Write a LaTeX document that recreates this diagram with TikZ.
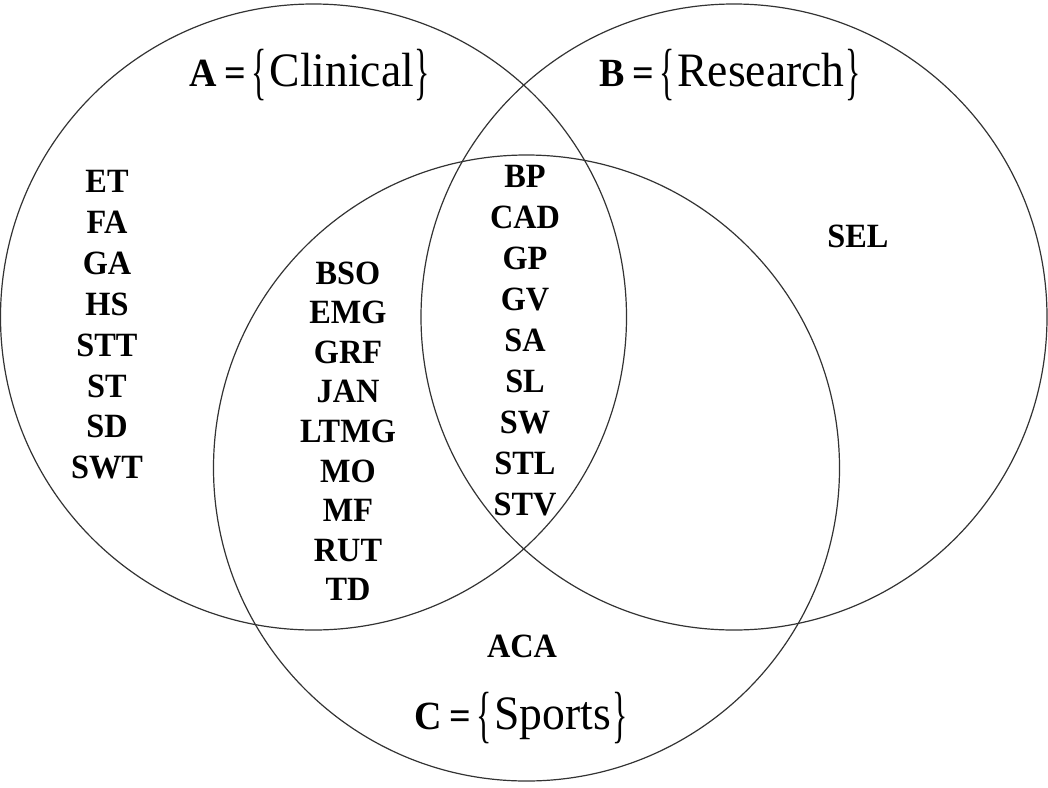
\documentclass[tikz,border=0pt]{standalone}
\usepackage{fontspec}
\setmainfont{Liberation Serif}[FakeStretch=0.95]
\usepackage{graphicx}
\newcommand{\lbrc}{\raisebox{-6pt}{\scalebox{0.7}[1.3]{\{}}}
\newcommand{\rbrc}{\raisebox{-6pt}{\scalebox{0.7}[1.3]{\}}}}
\newcommand{\settitle}[2]{{\fontsize{40}{40}\selectfont\bfseries #1\hspace{8pt}=}\hspace{5pt}\lbrc\hspace{3pt}#2\hspace{1pt}\rbrc}
\begin{document}
\begin{tikzpicture}[x=1pt,y=-1pt,
  ring/.style={circle,draw=black!80,line width=1.2pt,inner sep=0pt,minimum size=626pt},
  lab/.style={font=\fontsize{34}{34}\selectfont\bfseries,inner sep=0pt,anchor=center},
  title/.style={font=\fontsize{48}{48}\selectfont,inner sep=0pt,anchor=base west}]
\useasboundingbox (0,0) rectangle (1048,787);
\node[ring] (A) at (313.5,317) {};
\node[ring] (B) at (734,317) {};
\node[ring] (C) at (526.5,468) {};
\node[title] (tA) at (189,86) {\settitle{A}{Clinical}};
\node[title] (tB) at (599,86) {\settitle{B}{Research}};
\node[title] (tC) at (414,729) {\settitle{C}{Sports}};
\foreach \t [count=\i from 0] in {ET,FA,GA,HS,STT,ST,SD,SWT}
  \node[lab] (a\i) at (107,181.5+40.9*\i) {\t};
\foreach \t [count=\i from 0] in {BSO,EMG,GRF,JAN,LTMG,MO,MF,RUT,TD}
  \node[lab] (ac\i) at (348,273+39.6*\i) {\t};
\foreach \t [count=\i from 0] in {BP,CAD,GP,GV,SA,SL,SW,STL,STV}
  \node[lab] (abc\i) at (525,176+41*\i) {\t};
\node[lab] (sel) at (858,236) {SEL};
\node[lab] (aca) at (522,646) {ACA};
\end{tikzpicture}
\end{document}
